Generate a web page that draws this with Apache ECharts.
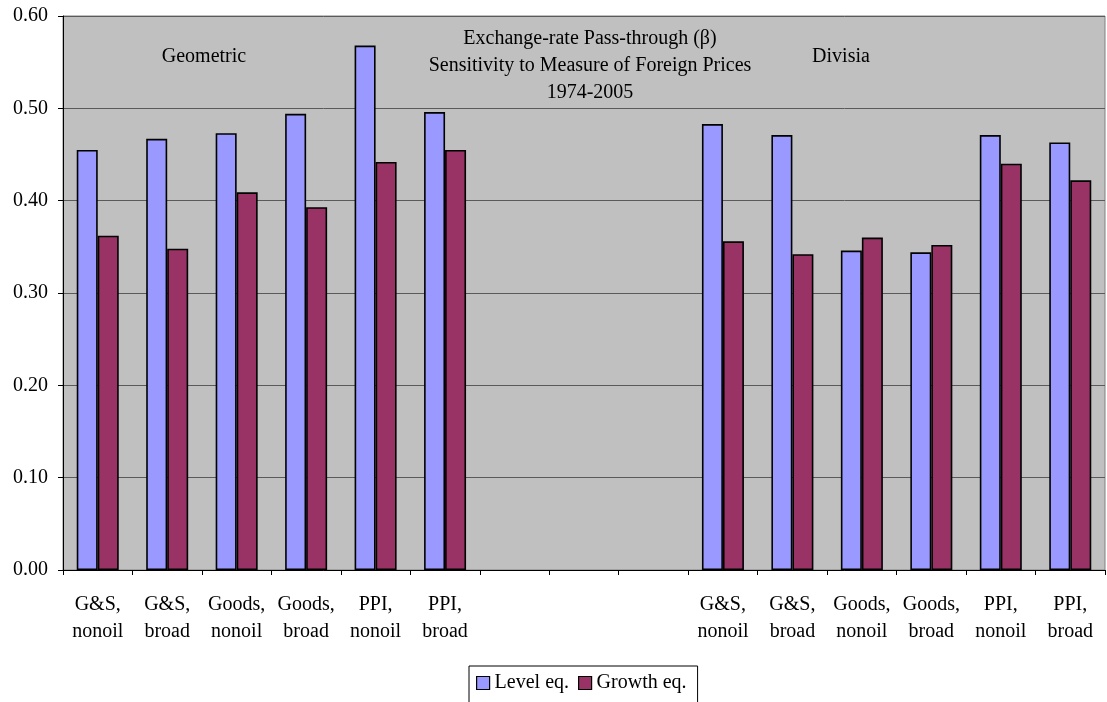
<!DOCTYPE html>
<html>
<head>
<meta charset="utf-8">
<script src="https://cdn.jsdelivr.net/npm/echarts@6/dist/echarts.min.js"></script>
<style>
html,body{margin:0;padding:0;background:#fff;}
#chart{width:1107px;height:702px;}
</style>
</head>
<body>
<div id="chart"></div>
<script>
const categories = ['G&S,\nnonoil','G&S,\nbroad','Goods,\nnonoil','Goods,\nbroad','PPI,\nnonoil','PPI,\nbroad','','','',
  'G&S,\nnonoil','G&S,\nbroad','Goods,\nnonoil','Goods,\nbroad','PPI,\nnonoil','PPI,\nbroad'];
const levelEq = [0.455,0.467,0.473,0.494,0.568,0.496,null,null,null,0.483,0.471,0.346,0.344,0.471,0.463];
const growthEq = [0.362,0.348,0.409,0.393,0.442,0.455,null,null,null,0.356,0.342,0.360,0.352,0.440,0.422];
const seriesNames = ['Level eq.','Growth eq.'];
const titleLines = ['Exchange-rate Pass-through (\u03B2)','Sensitivity to Measure of Foreign Prices','1974-2005'];
const groupLabels = ['Geometric','Divisia'];

const FONT = '"Liberation Serif","Times New Roman",serif';
const FS = 20;
const chart = echarts.init(document.getElementById('chart'), null, {renderer:'canvas'});
chart.setOption({
  animation:false,
  backgroundColor:'#ffffff',
  grid:{left:63,right:2,top:16,bottom:132,show:true,backgroundColor:'#C0C0C0',borderColor:'#808080',borderWidth:1},
  legend:{
    left:469, top:666, orient:'horizontal',
    padding:[7,11,12,7],
    backgroundColor:'#ffffff', borderColor:'#000', borderWidth:1,
    itemWidth:13, itemHeight:13, itemGap:9,
    icon:'rect',
    itemStyle:{borderColor:'#000',borderWidth:1.2},
    textStyle:{fontFamily:FONT,fontSize:FS,color:'#000',padding:[0,0,0,0]},
    data:seriesNames
  },
  xAxis:{
    type:'category', data:categories,
    axisLine:{show:true,lineStyle:{color:'#000',width:1}},
    axisTick:{show:true,length:5,lineStyle:{color:'#000'}},
    axisLabel:{interval:0,fontFamily:FONT,fontSize:FS,color:'#000',lineHeight:27,margin:21}
  },
  yAxis:{
    type:'value', min:0, max:0.6, interval:0.1,
    axisLine:{show:true,lineStyle:{color:'#000',width:1}},
    axisTick:{show:true,length:5,lineStyle:{color:'#000'}},
    axisLabel:{fontFamily:FONT,fontSize:FS,color:'#000',margin:15,formatter:v=>v.toFixed(2)},
    splitLine:{show:true,lineStyle:{color:'#5a5a5a',width:1}}
  },
  graphic:[
    {type:'text',x:590,y:25,style:{text:titleLines.join('\n'),fontFamily:FONT,fontSize:FS,lineHeight:27,fill:'#000',align:'center',verticalAlign:'top'}},
    {type:'text',x:204,y:43,style:{text:groupLabels[0],fontFamily:FONT,fontSize:FS,lineHeight:27,fill:'#000',align:'center',verticalAlign:'top'}},
    {type:'text',x:841,y:43,style:{text:groupLabels[1],fontFamily:FONT,fontSize:FS,lineHeight:27,fill:'#000',align:'center',verticalAlign:'top'}}
  ],
  series:[
    {name:seriesNames[0],type:'bar',data:levelEq,barWidth:21,barGap:'0%',
     itemStyle:{color:'#9999FF',borderColor:'#000',borderWidth:1.6}},
    {name:seriesNames[1],type:'bar',data:growthEq,barWidth:21,barGap:'0%',
     itemStyle:{color:'#993366',borderColor:'#000',borderWidth:1.6}}
  ]
});
</script>
</body>
</html>
